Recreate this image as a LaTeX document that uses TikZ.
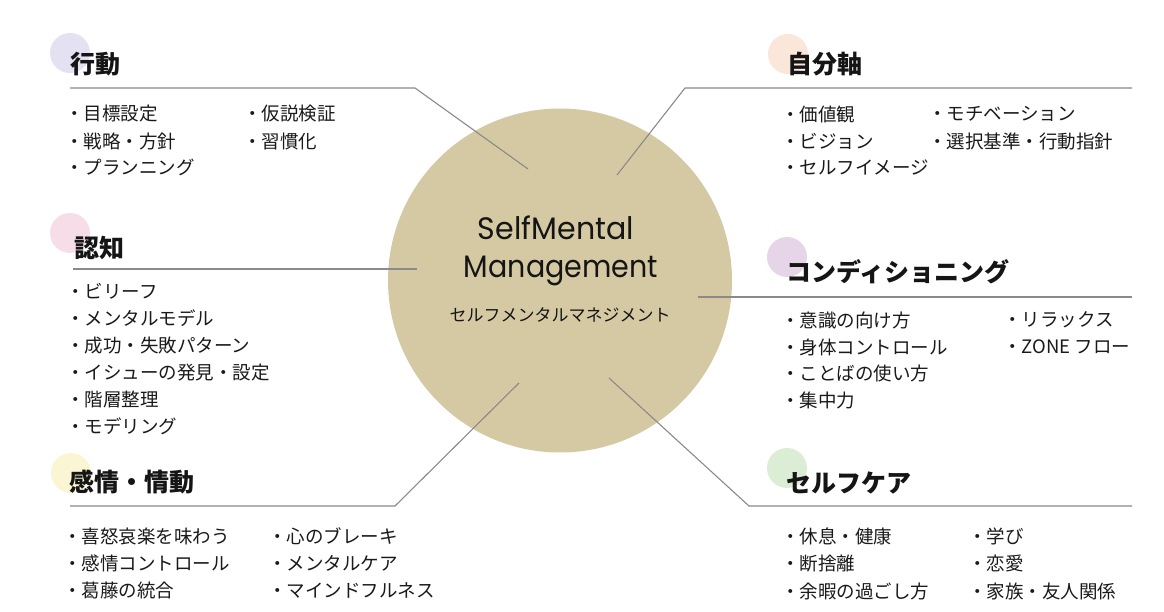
\documentclass[tikz,border=0pt]{standalone}
\usepackage{fontspec}
\setmainfont{Noto Sans CJK JP}
\newfontfamily\hubfont{Poppins}
\definecolor{hubtan}{HTML}{D4C9A3}
\definecolor{linegray}{HTML}{8A8A8A}
\definecolor{titlecol}{HTML}{151515}
\definecolor{itemcol}{HTML}{1A1A1A}
\definecolor{dA}{HTML}{E4E2F2}
\definecolor{dB}{HTML}{FBE6DA}
\definecolor{dC}{HTML}{F7DDE8}
\definecolor{dD}{HTML}{E6D5E9}
\definecolor{dE}{HTML}{FAF5D3}
\definecolor{dF}{HTML}{DCEDD6}
\begin{document}
\begin{tikzpicture}[x=1pt,y=-1pt,
  dot/.style={circle, minimum size=40pt, inner sep=0pt, draw=none},
  leader/.style={draw=linegray, line width=1.1pt},
  ttl/.style={anchor=west, inner sep=0pt, font=\fontsize{25}{30}\selectfont\bfseries, text=titlecol},
  itm/.style={anchor=west, inner sep=0pt, font=\fontsize{18.5}{22}\selectfont, text=itemcol},
  hubtxt/.style={anchor=base, inner sep=0pt, font=\hubfont\fontsize{31}{36}\selectfont, text=titlecol},
]
\useasboundingbox (0,0) rectangle (1164,612);
\fill[white] (0,0) rectangle (1164,612);

% colour dots
\node[dot, fill=dA] (dotA) at (70,53) {};
\node[dot, fill=dB] (dotB) at (788,54) {};
\node[dot, fill=dC] (dotC) at (70,233) {};
\node[dot, fill=dD] (dotD) at (787,257) {};
\node[dot, fill=dE] (dotE) at (71,473) {};
\node[dot, fill=dF] (dotF) at (787,468) {};

% hub
\node[circle, fill=hubtan, minimum size=344pt, inner sep=0pt] (hub) at (560,280.5) {};

% leader lines
\coordinate (a1) at (70,88);   \coordinate (a2) at (415,88);  \coordinate (a3) at (528,169);
\coordinate (b1) at (1132,88); \coordinate (b2) at (685,88);  \coordinate (b3) at (617,175);
\coordinate (c1) at (73,269);  \coordinate (c2) at (417,269);
\coordinate (d1) at (698,297); \coordinate (d2) at (1132,297);
\coordinate (e1) at (70,506);  \coordinate (e2) at (395,506); \coordinate (e3) at (519,383);
\coordinate (f1) at (1132,506);\coordinate (f2) at (749,506); \coordinate (f3) at (609,378);
\draw[leader] (a1) -- (a2) -- (a3);
\draw[leader] (b1) -- (b2) -- (b3);
\draw[leader] (c1) -- (c2);
\draw[leader] (d1) -- (d2);
\draw[leader] (e1) -- (e2) -- (e3);
\draw[leader] (f1) -- (f2) -- (f3);

% hub text
\node[hubtxt] (hubA) at (556,240) {\scalebox{0.97}[1]{SelfMental}};
\node[hubtxt] (hubB) at (561,278) {\scalebox{0.92}[1]{Management}};
\node[anchor=center, inner sep=0pt, font=\fontsize{17}{20}\selectfont, text=titlecol] (hubC) at (560,315) {セルフメンタルマネジメント};

% titles
\node[ttl] (tA) at (70,64) {行動};
\node[ttl] (tB) at (787,64) {自分軸};
\node[ttl] (tC) at (74,248) {認知};
\node[ttl] (tD) at (786,272) {コンディショニング};
\node[ttl] (tE) at (69,482) {感情・情動};
\node[ttl] (tF) at (786,483) {セルフケア};

% items: 行動
\node[itm] (iA1) at (65,114) {・目標設定};
\node[itm] (iA2) at (65,141) {・戦略・方針};
\node[itm] (iA3) at (65,167) {・プランニング};
\node[itm] (iA4) at (243,114) {・仮説検証};
\node[itm] (iA5) at (243,141) {・習慣化};

% items: 自分軸
\node[itm] (iB1) at (781,114) {・価値観};
\node[itm] (iB2) at (781,141) {・ビジョン};
\node[itm] (iB3) at (781,167) {・セルフイメージ};
\node[itm] (iB4) at (928,114) {・モチベーション};
\node[itm] (iB5) at (928,141) {・選択基準・行動指針};

% items: 認知
\node[itm] (iC1) at (66,291.5) {・ビリーフ};
\node[itm] (iC2) at (66,318.5) {・メンタルモデル};
\node[itm] (iC3) at (66,345.5) {・成功・失敗パターン};
\node[itm] (iC4) at (66,372.5) {・イシューの発見・設定};
\node[itm] (iC5) at (66,399.5) {・階層整理};
\node[itm] (iC6) at (66,426.5) {・モデリング};

% items: コンディショニング
\node[itm] (iD1) at (781,320) {・意識の向け方};
\node[itm] (iD2) at (781,347) {・身体コントロール};
\node[itm] (iD3) at (781,373) {・ことばの使い方};
\node[itm] (iD4) at (781,400) {・集中力};
\node[itm] (iD5) at (1003,320) {・リラックス};
\node[itm] (iD6) at (1003,347) {・ZONE フロー};

% items: 感情・情動
\node[itm] (iE1) at (63,536) {・喜怒哀楽を味わう};
\node[itm] (iE2) at (63,563.5) {・感情コントロール};
\node[itm] (iE3) at (63,591) {・葛藤の統合};
\node[itm] (iE4) at (268,536) {・心のブレーキ};
\node[itm] (iE5) at (268,563.5) {・メンタルケア};
\node[itm] (iE6) at (268,591) {・マインドフルネス};

% items: セルフケア
\node[itm] (iF1) at (781,536) {・休息・健康};
\node[itm] (iF2) at (781,563.5) {・断捨離};
\node[itm] (iF3) at (781,591) {・余暇の過ごし方};
\node[itm] (iF4) at (968,536) {・学び};
\node[itm] (iF5) at (968,563.5) {・恋愛};
\node[itm] (iF6) at (968,591) {・家族・友人関係};
\end{tikzpicture}
\end{document}
